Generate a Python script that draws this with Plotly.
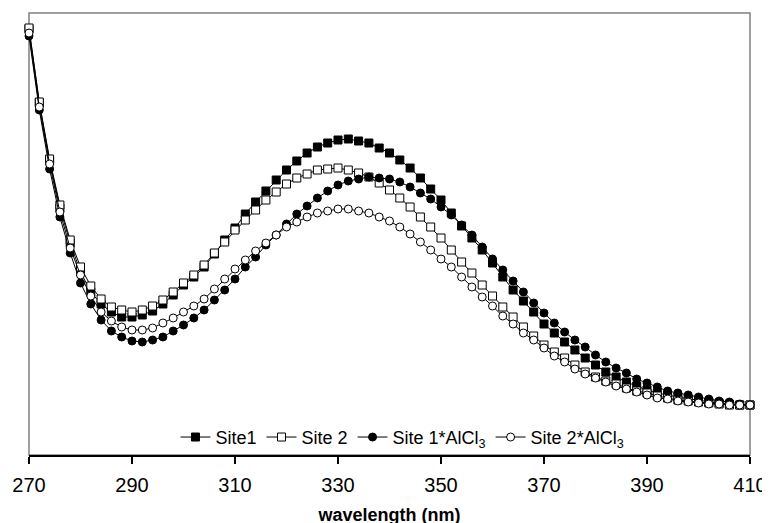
import plotly.graph_objects as go

wavelength = list(range(270, 411, 2))

# Absorbance (arbitrary units)
site1 = [0.426, 0.352, 0.294, 0.247, 0.212, 0.183, 0.163, 0.151, 0.143, 0.138,
         0.138, 0.140, 0.144, 0.151, 0.160, 0.170, 0.178, 0.188, 0.201, 0.215,
         0.227, 0.241, 0.253, 0.264, 0.275, 0.285, 0.294, 0.302, 0.308, 0.312,
         0.315, 0.316, 0.314, 0.312, 0.307, 0.302, 0.295, 0.287, 0.277, 0.266,
         0.255, 0.242, 0.229, 0.217, 0.205, 0.192, 0.178, 0.165, 0.154, 0.143,
         0.131, 0.122, 0.113, 0.105, 0.097, 0.090, 0.083, 0.078, 0.073, 0.069,
         0.065, 0.062, 0.060, 0.058, 0.056, 0.055, 0.053, 0.052, 0.051, 0.050,
         0.050]
site2 = [0.427, 0.353, 0.296, 0.250, 0.215, 0.188, 0.169, 0.156, 0.148, 0.145,
         0.143, 0.145, 0.149, 0.155, 0.163, 0.172, 0.180, 0.190, 0.202, 0.213,
         0.225, 0.235, 0.245, 0.255, 0.263, 0.271, 0.277, 0.281, 0.285, 0.286,
         0.287, 0.285, 0.282, 0.278, 0.272, 0.265, 0.257, 0.248, 0.238, 0.228,
         0.217, 0.205, 0.193, 0.182, 0.170, 0.159, 0.148, 0.138, 0.128, 0.119,
         0.110, 0.103, 0.097, 0.090, 0.083, 0.078, 0.074, 0.071, 0.067, 0.064,
         0.062, 0.059, 0.057, 0.055, 0.054, 0.053, 0.052, 0.051, 0.050, 0.050,
         0.050]
site1_alcl3 = [0.419, 0.345, 0.286, 0.238, 0.202, 0.172, 0.151, 0.135, 0.124, 0.118,
               0.114, 0.113, 0.115, 0.118, 0.124, 0.130, 0.137, 0.145, 0.155, 0.165,
               0.176, 0.188, 0.198, 0.210, 0.220, 0.231, 0.241, 0.249, 0.257, 0.264,
               0.270, 0.274, 0.276, 0.278, 0.277, 0.276, 0.273, 0.268, 0.262, 0.256,
               0.248, 0.240, 0.230, 0.220, 0.208, 0.196, 0.185, 0.174, 0.163, 0.152,
               0.142, 0.132, 0.123, 0.115, 0.108, 0.100, 0.093, 0.087, 0.082, 0.076,
               0.072, 0.068, 0.064, 0.062, 0.060, 0.058, 0.056, 0.054, 0.053, 0.051,
               0.050]
site2_alcl3 = [0.422, 0.348, 0.291, 0.243, 0.207, 0.180, 0.159, 0.143, 0.134, 0.128,
               0.125, 0.125, 0.127, 0.132, 0.137, 0.143, 0.149, 0.156, 0.166, 0.176,
               0.186, 0.195, 0.204, 0.212, 0.220, 0.228, 0.233, 0.238, 0.242, 0.244,
               0.246, 0.246, 0.244, 0.242, 0.238, 0.234, 0.228, 0.221, 0.213, 0.205,
               0.196, 0.188, 0.178, 0.168, 0.158, 0.149, 0.139, 0.131, 0.122, 0.115,
               0.107, 0.099, 0.093, 0.086, 0.081, 0.077, 0.073, 0.069, 0.066, 0.063,
               0.060, 0.057, 0.056, 0.054, 0.053, 0.052, 0.051, 0.051, 0.050, 0.050,
               0.050]

series_names = ["Site1", "Site 2", "Site 1*AlCl<sub>3</sub>", "Site 2*AlCl<sub>3</sub>"]
x_ticks = [270, 290, 310, 330, 350, 370, 390, 410]

styles = [
    dict(symbol="square", color="black"),
    dict(symbol="square", color="white"),
    dict(symbol="circle", color="black"),
    dict(symbol="circle", color="white"),
]

fig = go.Figure()
for name, ys, st in zip(series_names, [site1, site2, site1_alcl3, site2_alcl3], styles):
    fig.add_trace(go.Scatter(
        x=wavelength, y=ys, name=name, mode="lines+markers",
        line=dict(color="black", width=1),
        marker=dict(symbol=st["symbol"], size=8, color=st["color"],
                    line=dict(color="black", width=1)),
        cliponaxis=False,
    ))

font_family = "Arial, 'Liberation Sans', sans-serif"

# page body adds an 8px offset; margins compensate for it
fig.update_layout(
    width=770, height=523,
    margin=dict(l=21, r=28, t=5, b=76, autoexpand=False),
    paper_bgcolor="white", plot_bgcolor="white",
    font=dict(family=font_family, color="black"),
    showlegend=True,
    legend=dict(
        orientation="h", x=0.518, xanchor="center", y=0.04, yanchor="middle",
        font=dict(size=18, family=font_family, color="black"),
        itemwidth=30, bgcolor="rgba(0,0,0,0)",
    ),
    xaxis=dict(
        range=[270, 410], tickvals=x_ticks, ticktext=[str(v) for v in x_ticks],
        automargin=False,
        showgrid=False, zeroline=False,
        showline=True, linecolor="black", linewidth=2,
        ticks="outside", ticklen=7, tickwidth=1.5, tickcolor="black",
        ticklabelstandoff=4,
        tickfont=dict(size=20, family=font_family, color="black"),
        title=dict(text="<b>wavelength (nm)</b>", standoff=13,
                   font=dict(size=18, family=font_family, color="black")),
    ),
    yaxis=dict(
        range=[0, 0.442], showgrid=False, zeroline=False, automargin=False,
        showticklabels=False, ticks="", showline=False,
    ),
    shapes=[dict(type="rect", xref="paper", yref="paper", x0=0, x1=1, y0=0, y1=1,
                 line=dict(color="#808080", width=1.5), layer="below")],
)

fig.write_html("out.html")
